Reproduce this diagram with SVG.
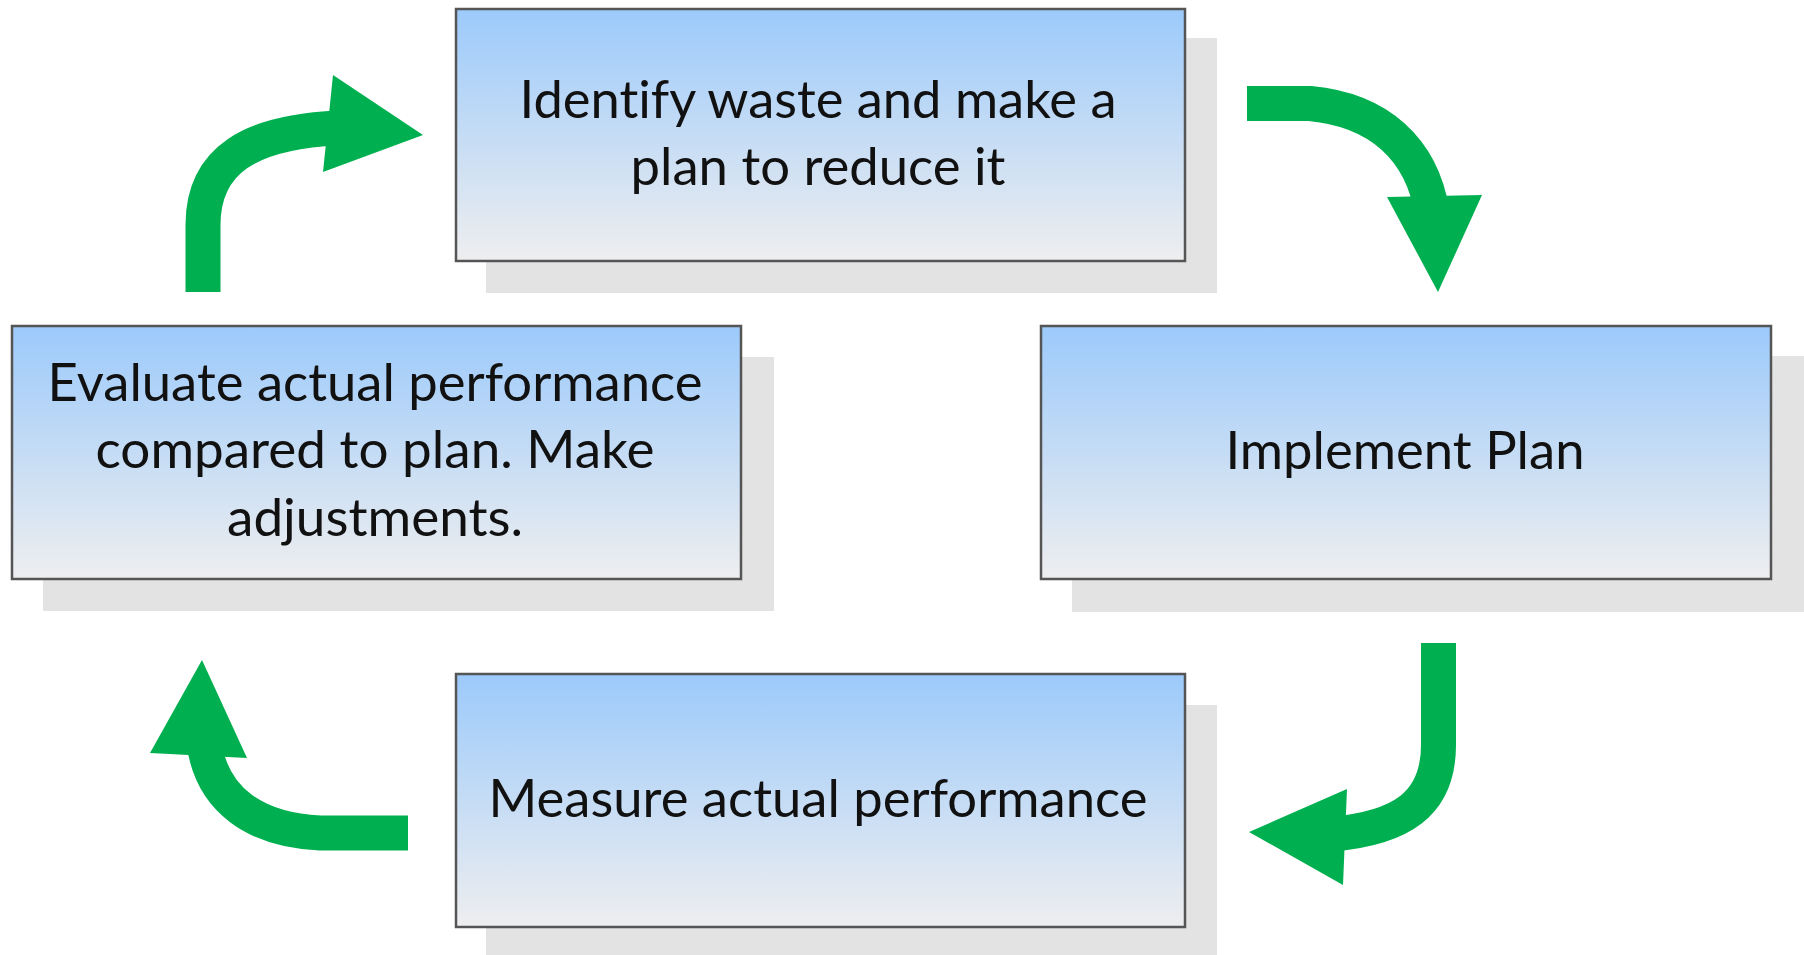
<svg xmlns="http://www.w3.org/2000/svg" width="1804" height="955" viewBox="0 0 1804 955">
<defs>
<linearGradient id="g" x1="0" y1="0" x2="0" y2="1">
<stop offset="0" stop-color="#9ccafb"/>
<stop offset="1" stop-color="#eeeeef"/>
</linearGradient>
</defs>
<style>
.sh{fill:#e3e3e3}
.bx{fill:url(#g);stroke:#555;stroke-width:2.5}
.t{font-family:Lato,"Open Sans",sans-serif;font-size:53px;fill:#111;text-anchor:middle;font-variant-ligatures:none;font-feature-settings:"liga" 0}
.ar{fill:none;stroke:#00b050;stroke-width:35}
.hd{fill:#00b050}
</style>
<rect width="1804" height="955" fill="#fff"/>
<g id="node-identify">
<rect class="sh" x="486" y="38" width="731" height="255"/>
<rect class="bx" x="456" y="9" width="729" height="252"/>
<text class="t" x="818" y="118" textLength="597" lengthAdjust="spacingAndGlyphs">Identify waste and make a</text>
<text class="t" x="818" y="185" textLength="375" lengthAdjust="spacingAndGlyphs">plan to reduce it</text>
</g>
<g id="node-implement">
<rect class="sh" x="1072" y="356" width="740" height="256"/>
<rect class="bx" x="1041" y="326" width="730" height="253"/>
<text class="t" x="1405" y="469" textLength="359" lengthAdjust="spacingAndGlyphs">Implement Plan</text>
</g>
<g id="node-measure">
<rect class="sh" x="486" y="705" width="731" height="260"/>
<rect class="bx" x="456" y="674" width="729" height="253"/>
<text class="t" x="818" y="817" textLength="659" lengthAdjust="spacingAndGlyphs">Measure actual performance</text>
</g>
<g id="node-evaluate">
<rect class="sh" x="43" y="357" width="731" height="254"/>
<rect class="bx" x="12" y="326" width="729" height="253"/>
<text class="t" x="375" y="401" textLength="655" lengthAdjust="spacingAndGlyphs">Evaluate actual performance</text>
<text class="t" x="375" y="468" textLength="559" lengthAdjust="spacingAndGlyphs">compared to plan. Make</text>
<text class="t" x="375" y="536" textLength="296" lengthAdjust="spacingAndGlyphs">adjustments.</text>
</g>
<g id="connectors">
<path class="ar" d="M1247,103.5 L1310,103.5 C1380,110 1422,150 1432,212"/>
<polygon class="hd" points="1387,197 1482,195 1438,292"/>
<path class="ar" d="M1438.5,643 L1438.5,745 C1438.5,805 1400,828 1333,834"/>
<polygon class="hd" points="1347,789 1343,885 1249,832"/>
<path class="ar" d="M408,833 L320,833 C255,830 212,800 204,743"/>
<polygon class="hd" points="150,753 247,758 202,660"/>
<path class="ar" d="M203,292 L203,225 C203,160 250,132 338,128"/>
<polygon class="hd" points="333,75 323,172 423,135"/>
</g>
</svg>
